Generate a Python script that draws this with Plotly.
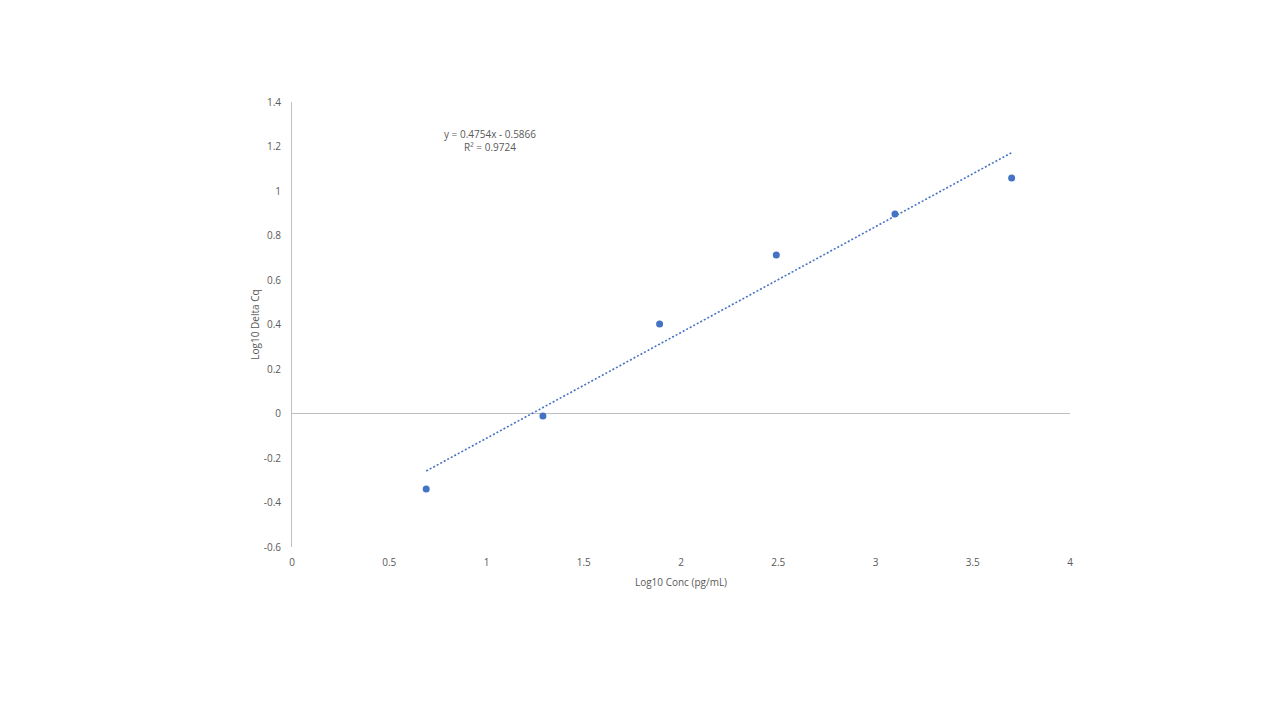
import plotly.graph_objects as go

log_conc = [0.69, 1.29, 1.89, 2.49, 3.10, 3.70]
log_delta_cq = [-0.339, -0.011, 0.402, 0.712, 0.897, 1.058]
slope = 0.4754
intercept = -0.5866
r_squared = 0.9724
y_ticks = [-0.6, -0.4, -0.2, 0, 0.2, 0.4, 0.6, 0.8, 1, 1.2, 1.4]

blue = "#4472C4"
grey_text = "#595959"

trend_x = [min(log_conc), max(log_conc)]
trend_y = [slope * x + intercept for x in trend_x]

fig = go.Figure()
fig.add_trace(go.Scatter(x=trend_x, y=trend_y, mode="lines",
                         line=dict(color=blue, width=1.6, dash="2px,2px"),
                         hoverinfo="skip", showlegend=False))
fig.add_trace(go.Scatter(x=log_conc, y=log_delta_cq, mode="markers",
                         marker=dict(color=blue, size=7),
                         showlegend=False))

fig.add_annotation(x=1.02, y=1.227, xref="x", yref="y",
                   text=f"y = {slope}x - {abs(intercept)}<br>R² = {r_squared}",
                   showarrow=False, align="center",
                   font=dict(family="Open Sans", size=10, color=grey_text))

fig.update_layout(
    width=1280, height=720,
    paper_bgcolor="white", plot_bgcolor="white",
    margin=dict(l=284, r=218, t=94, b=181),
    font=dict(family="Open Sans", size=10, color=grey_text),
    xaxis=dict(range=[0, 4], dtick=0.5, showgrid=False, zeroline=False,
               showline=False, ticks="", ticklabelstandoff=8,
               title=dict(text="Log10 Conc (pg/mL)", standoff=10,
                          font=dict(size=10, color=grey_text))),
    yaxis=dict(range=[-0.6, 1.4], tickvals=y_ticks,
               ticktext=[f"{v:g}" for v in y_ticks], showgrid=False,
               zeroline=True, zerolinecolor="#BFBFBF", zerolinewidth=1,
               showline=True, linecolor="#BFBFBF", linewidth=1,
               ticks="", ticklabelstandoff=8,
               title=dict(text="Log10 Delta Cq", standoff=2,
                          font=dict(size=10, color=grey_text))),
)

fig.write_html("out.html")
